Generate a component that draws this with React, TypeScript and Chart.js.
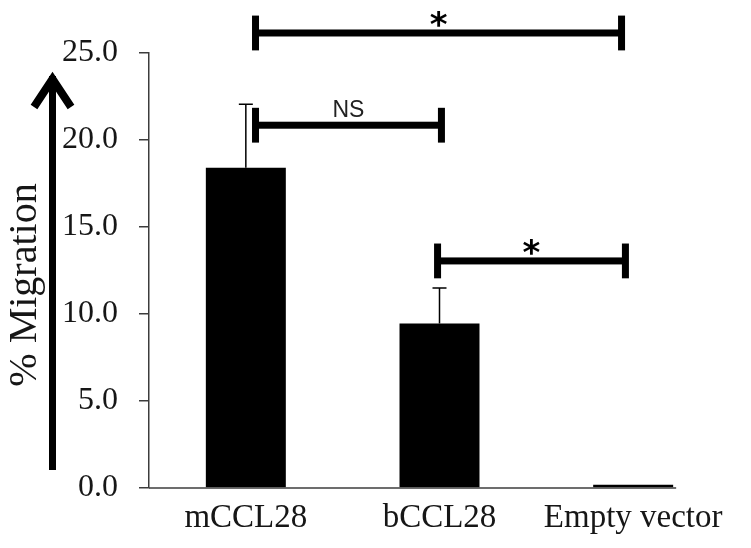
import React, { useEffect, useRef } from 'react';
import { Chart, registerables } from 'chart.js';

Chart.register(...registerables);

// ---- data ----
const categories = ['mCCL28', 'bCCL28', 'Empty vector'];
const migration = [18.4, 9.45, 0.18];
const errorsUp = [3.65, 2.05, 0];
const yMin = 0;
const yMax = 25;
const yStep = 5;
const yAxisTitle = '% Migration';
// significance brackets: from category index, to category index, level (y units), label
const bracketFrom = [0.05, 0.05, 0.99];
const bracketTo = [1.94, 1.01, 1.96];
const bracketLevel = [26.15, 20.85, 13.05];
const bracketLabels = ['*', 'NS', '*'];

const AXIS_COLOR = '#3c3c3c';
const TEXT_COLOR = '#161616';

function drawGlyphCentered(ctx: CanvasRenderingContext2D, text: string, cx: number, cy: number, font: string) {
  ctx.save();
  ctx.font = font;
  ctx.textAlign = 'center';
  ctx.textBaseline = 'alphabetic';
  const m = ctx.measureText(text);
  const asc = m.actualBoundingBoxAscent;
  const desc = m.actualBoundingBoxDescent;
  ctx.fillText(text, cx, cy + (asc - desc) / 2);
  ctx.restore();
}

const overlayPlugin = {
  id: 'overlay',
  afterDatasetsDraw(chart: any) {
    const ctx: CanvasRenderingContext2D = chart.ctx;
    const xs = chart.scales.x;
    const ys = chart.scales.y;
    const area = chart.chartArea;
    const meta = chart.getDatasetMeta(0);

    // x axis line up to the right edge of the last bar
    const last = meta.data[meta.data.length - 1];
    const lastRight = last.x + last.width / 2 + 3;
    ctx.save();
    ctx.strokeStyle = AXIS_COLOR;
    ctx.lineWidth = 1.5;
    ctx.beginPath();
    ctx.moveTo(area.left, area.bottom);
    ctx.lineTo(lastRight, area.bottom);
    ctx.stroke();

    // error bars (upper only)
    ctx.strokeStyle = '#000';
    ctx.lineWidth = 1.5;
    migration.forEach((v, i) => {
      const e = errorsUp[i];
      if (!e) return;
      const bx = meta.data[i].x;
      const yTop = ys.getPixelForValue(v + e);
      const yBar = ys.getPixelForValue(v);
      ctx.beginPath();
      ctx.moveTo(bx, yBar);
      ctx.lineTo(bx, yTop);
      ctx.moveTo(bx - 7, yTop);
      ctx.lineTo(bx + 7, yTop);
      ctx.stroke();
    });

    // significance brackets
    ctx.fillStyle = '#000';
    const lw = 7;
    bracketLabels.forEach((label, i) => {
      const x1 = xs.getPixelForValue(bracketFrom[i]);
      const x2 = xs.getPixelForValue(bracketTo[i]);
      const y = ys.getPixelForValue(bracketLevel[i]);
      const yHi = ys.getPixelForValue(bracketLevel[i] + 1);
      const yLo = ys.getPixelForValue(bracketLevel[i] - 1);
      ctx.fillRect(x1, y - lw / 2, x2 - x1, lw);
      ctx.fillRect(x1 - lw / 2, yHi, lw, yLo - yHi);
      ctx.fillRect(x2 - lw / 2, yHi, lw, yLo - yHi);
      const cx = (x1 + x2) / 2;
      if (label === '*') {
        drawGlyphCentered(ctx, label, cx, y - 14, 'bold 34px "DejaVu Sans"');
      } else {
        ctx.fillStyle = '#222';
        drawGlyphCentered(ctx, label, cx, y - 17, '23px "Liberation Sans"');
        ctx.fillStyle = '#000';
      }
    });
    ctx.restore();
  },
  afterDraw(chart: any) {
    const ctx: CanvasRenderingContext2D = chart.ctx;
    ctx.save();
    // big arrow along the axis title
    ctx.fillStyle = '#000';
    ctx.fillRect(49, 76, 7, 394);
    ctx.strokeStyle = '#000';
    ctx.lineWidth = 8;
    ctx.lineJoin = 'miter';
    ctx.lineCap = 'butt';
    ctx.beginPath();
    ctx.moveTo(34, 107);
    ctx.lineTo(52.5, 79);
    ctx.lineTo(71, 107);
    ctx.stroke();

    // y axis title
    ctx.fillStyle = TEXT_COLOR;
    ctx.font = '40px "Liberation Serif"';
    ctx.textAlign = 'center';
    ctx.textBaseline = 'alphabetic';
    ctx.translate(36, 285);
    ctx.rotate(-Math.PI / 2);
    ctx.fillText(yAxisTitle, 0, 0);
    ctx.restore();
  },
};

export default function App() {
  const canvasRef = useRef<HTMLCanvasElement | null>(null);

  useEffect(() => {
    if (!canvasRef.current) return;
    const chart = new Chart(canvasRef.current, {
      type: 'bar',
      data: {
        labels: categories,
        datasets: [
          {
            data: migration,
            backgroundColor: '#000',
            borderWidth: 0,
            barPercentage: 0.413,
            categoryPercentage: 1,
          },
        ],
      },
      options: {
        responsive: false,
        animation: false,
        devicePixelRatio: 1,
        layout: { padding: { top: 53, right: 21, left: 0, bottom: 0 } },
        plugins: {
          legend: { display: false },
          tooltip: { enabled: false },
          title: { display: false },
        },
        scales: {
          x: {
            type: 'category',
            offset: true,
            border: { display: false },
            grid: { display: false, drawTicks: false },
            ticks: {
              color: TEXT_COLOR,
              padding: 11,
              maxRotation: 0,
              autoSkip: false,
              font: { family: '"Liberation Serif"', size: 33 },
            },
            afterFit: (scale: any) => {
              scale.height = 60;
            },
          },
          y: {
            min: yMin,
            max: yMax,
            border: { display: true, color: AXIS_COLOR, width: 1.5 },
            grid: {
              drawOnChartArea: false,
              drawTicks: true,
              tickLength: 10,
              color: AXIS_COLOR,
              lineWidth: 1.5,
            },
            ticks: {
              stepSize: yStep,
              color: TEXT_COLOR,
              padding: 21,
              font: { family: '"Liberation Serif"', size: 32 },
              callback: (v: any) => Number(v).toFixed(1),
            },
            afterFit: (scale: any) => {
              scale.width = 149;
            },
          },
        },
      },
      plugins: [overlayPlugin],
    });
    return () => chart.destroy();
  }, []);

  return (
    <div style={{ position: 'fixed', left: 0, top: 0, width: 751, height: 548, background: '#fff' }}>
      <canvas ref={canvasRef} width={751} height={548} style={{ width: 751, height: 548, display: 'block' }} />
    </div>
  );
}
